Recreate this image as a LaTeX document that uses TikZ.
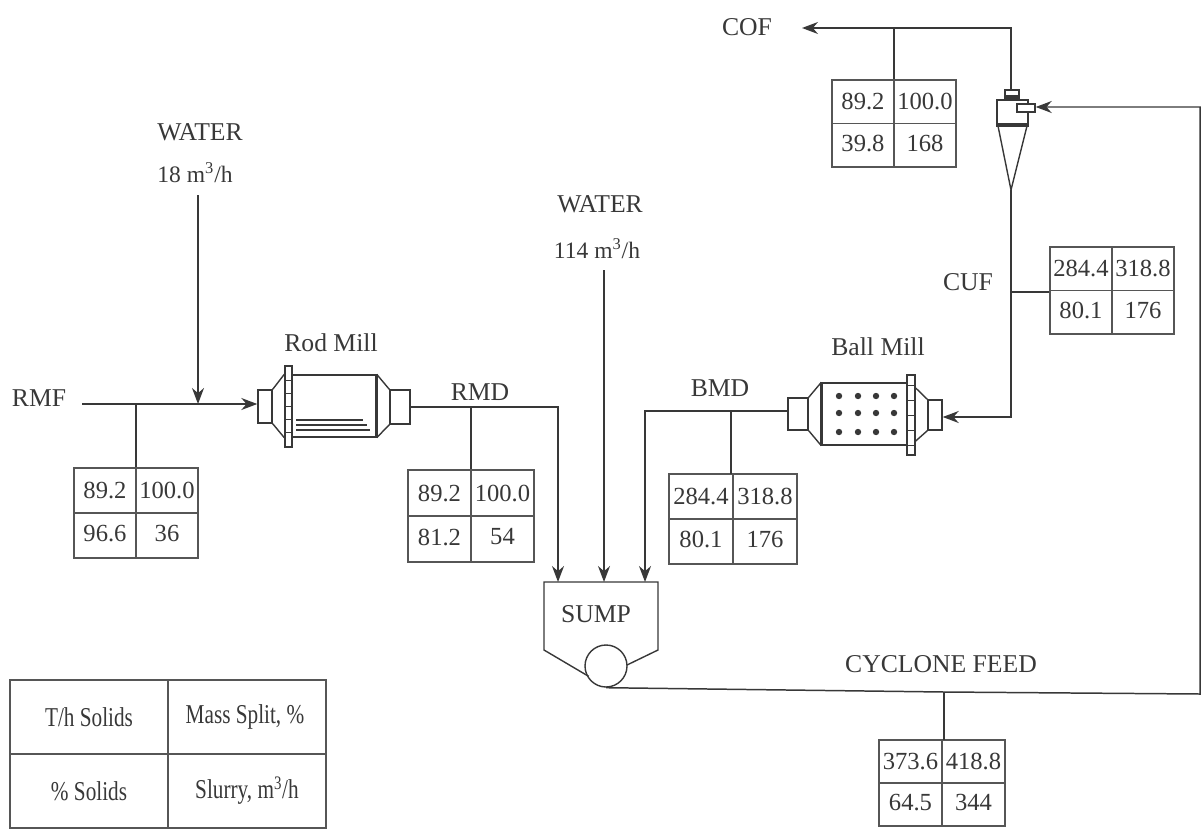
\documentclass[tikz,border=0pt]{standalone}
\usepackage{fontspec}
\setmainfont{Liberation Serif}
\usetikzlibrary{arrows.meta}
\def\px{0.02cm}
\definecolor{ink}{gray}{0.22}
\tikzset{
    stream/.style={draw=ink, line width=0.85pt},
    flow/.style={stream, -{Stealth[length=3.2mm,width=2.4mm]}},
    label/.style={text=ink, inner sep=0pt, font=\fontsize{14.6}{16}\selectfont},
    ratelabel/.style={text=ink, inner sep=0pt, font=\fontsize{13.4}{15}\selectfont},
    cell/.style={text=ink, inner sep=0pt, font=\fontsize{14}{15}\selectfont},
    legendtext/.style={text=ink, inner sep=0pt, font=\fontsize{15.5}{17}\selectfont, xscale=0.78, transform shape},
    grid/.style={draw=ink!85, line width=0.8pt},
    millbox/.style={draw=ink, line width=0.8pt, inner sep=0pt, minimum width=#1*\px},
    frame/.style={draw=ink, line width=0.8pt, inner sep=0pt}
}
% name, centre, half width, half height, four values
\newcommand{\streamtable}[8]{
    \node[grid, inner sep=0pt, minimum width=2*#3*\px, minimum height=2*#4*\px] (#1) at (#2) {};
    \draw[grid] (#1.north) -- (#1.south);
    \draw[grid] (#1.west) -- (#1.east);
    \node[cell] (#1a) at ([shift={(-#3/2,-#4/2)}]#1) {#5};
    \node[cell] (#1b) at ([shift={(#3/2,-#4/2)}]#1) {#6};
    \node[cell] (#1c) at ([shift={(-#3/2,#4/2-2)}]#1) {#7};
    \node[cell] (#1d) at ([shift={(#3/2,#4/2-2)}]#1) {#8};
}
\begin{document}
\begin{tikzpicture}[x=0.02cm, y=-0.02cm]
    \useasboundingbox (0,0) rectangle (1202,828);

    % Labels:
    \node[label] (water1) at (200,132) {WATER};
    \node[ratelabel] (rate1) at (195,173) {18 m\textsuperscript{3}/h};
    \node[label] (water2) at (600,204) {WATER};
    \node[ratelabel] (rate2) at (597,249) {114 m\textsuperscript{3}/h};
    \node[label] (rodlabel) at (331,343) {Rod Mill};
    \node[label] (balllabel) at (878,347) {Ball Mill};
    \node[label] (rmf) at (39,398) {RMF};
    \node[label] (rmd) at (480,392) {RMD};
    \node[label] (bmd) at (720,388) {BMD};
    \node[label] (cuf) at (968,282) {CUF};
    \node[label] (cof) at (747,27) {COF};
    \node[label] (feedlabel) at (941,664) {CYCLONE FEED};

    % Tables:
    \streamtable{tabrmf}{136,513}{62}{45}{89.2}{100.0}{96.6}{36}
    \streamtable{tabrmd}{471,516}{63}{46}{89.2}{100.0}{81.2}{54}
    \streamtable{tabbmd}{733,519}{64}{45}{284.4}{318.8}{80.1}{176}
    \streamtable{tabcof}{894,123.5}{62}{43.5}{89.2}{100.0}{39.8}{168}
    \streamtable{tabcuf}{1112,290.5}{62}{43.5}{284.4}{318.8}{80.1}{176}
    \streamtable{tabfeed}{942,783}{63}{43}{373.6}{418.8}{64.5}{344}

    % Legend:
    \node[grid, inner sep=0pt, minimum width=316*\px, minimum height=148*\px] (legend) at (168,754) {};
    \draw[grid] (legend.north) -- (legend.south);
    \draw[grid] (legend.west) -- (legend.east);
    \node[legendtext] (legenda) at (89,717) {T/h Solids};
    \node[legendtext] (legendb) at (245,717) {Mass Split, \%};
    \node[legendtext] (legendc) at (89,791) {\% Solids};
    \node[legendtext] (legendd) at (247,791) {Slurry, m\textsuperscript{3}/h};

    % Rod mill:
    \node[millbox=14, minimum height=33*\px] (rodin) at (265,406.5) {};
    \node[frame, fill=white, minimum width=7*\px, minimum height=81*\px] (rodflange) at (288.5,406.5) {};
    \node[frame, minimum width=84*\px, minimum height=62*\px] (rodbody) at (334,406) {};
    \node[millbox=20, minimum height=34*\px] (rodout) at (400,407) {};
    \draw[frame] (rodin.north east) -- (rodflange.west |- rodbody.north);
    \draw[frame] (rodin.south east) -- (rodflange.west |- rodbody.south);
    \draw[frame] (rodbody.north east) -- (rodout.north west);
    \draw[frame] (rodbody.south east) -- (rodout.south west);
    \draw[ink, line width=1.2pt] (rodbody.north east) -- (rodbody.south east);
    \foreach \yy in {380,393,406,419,432}
        \draw[ink] (285,\yy) -- (292,\yy);
    \draw[ink, line width=0.6pt] (296,420) -- (363,420);
    \draw[ink, line width=0.9pt] (296,425) -- (367,425);
    \draw[ink, line width=0.9pt] (296,430) -- (370,430);

    % Ball mill:
    \node[millbox=20, minimum height=32*\px] (ballout) at (798,414) {};
    \node[frame, minimum width=85*\px, minimum height=62*\px] (ballbody) at (864.5,414) {};
    \node[frame, fill=white, minimum width=8*\px, minimum height=80*\px] (ballflange) at (911,415) {};
    \node[millbox=14, minimum height=30*\px] (ballin) at (935,415) {};
    \draw[frame] (ballout.north east) -- (ballbody.north west);
    \draw[frame] (ballout.south east) -- (ballbody.south west);
    \draw[frame] (ballflange.east |- 0,388) -- (ballin.north west);
    \draw[frame] (ballflange.east |- 0,441) -- (ballin.south west);
    \draw[ink, line width=1.2pt] (ballbody.north west) -- (ballbody.south west);
    \foreach \yy in {385,400,415,430,445}
        \draw[ink] (907,\yy) -- (915,\yy);
    \foreach \xx in {839,858,876,894}
        \foreach \yy in {396,413,432}
            \fill[ink] (\xx,\yy) circle (3.2);

    % Cyclone:
    \node[frame, minimum width=31*\px, minimum height=24*\px] (cycbody) at (1012.5,112) {};
    \node[frame, minimum width=14*\px, minimum height=10*\px] (cyctop) at (1012,95) {};
    \fill[ink] (1005,95) rectangle (1019,100);
    \node[frame, fill=white, minimum width=18*\px, minimum height=8*\px] (cycin) at (1026,108) {};
    \draw[ink, line width=1.8pt] (996,125) -- (1029,125);
    \coordinate (cycapex) at (1011,190);
    \draw[frame] (998,126) -- (cycapex) -- (1027,126);

    % Sump:
    \node[draw=ink, line width=0.8pt, circle, inner sep=0pt, minimum size=42*\px] (pump) at (606,666) {};
    \coordinate (sumpnw) at (544,582);
    \coordinate (sumpne) at (658,582);
    \draw[frame] (pump.south west) ++(-2,-5) -- (544,650) -- (sumpnw) -- (sumpne) -- (658,650) -- (627,665);
    \node[label] (sump) at (596,614) {SUMP};

    % Streams:
    \coordinate (rmfstart) at (82,404);
    \coordinate (waterjoin) at (198,404);
    \coordinate (rmfjoin) at (136,404);
    \draw[flow] (rmfstart) -- (rodin.west |- rmfstart);
    \draw[stream] (rmfjoin) -- (tabrmf.north);
    \draw[flow] (198,195) -- (waterjoin);

    \coordinate (rmdcorner) at (558,407);
    \coordinate (sumprmd) at (558,582);
    \draw[flow] (rodout.east) -- (rmdcorner) -- (sumprmd);
    \draw[stream] (tabrmd.north |- rmdcorner) -- (tabrmd.north);

    \draw[flow] (604,270) -- (604,582);

    \coordinate (bmdcorner) at (645,411);
    \coordinate (sumpbmd) at (645,582);
    \draw[flow] (ballout.west |- bmdcorner) -- (bmdcorner) -- (sumpbmd);
    \draw[stream] (731,411) -- (731,474);

    \coordinate (cufcorner) at (1011,417);
    \draw[flow] (cycapex) -- (cufcorner) -- (ballin.east |- cufcorner);
    \draw[stream] (1011,292) -- (tabcuf.west |- 0,292);

    \coordinate (cofcorner) at (1011,28);
    \coordinate (cofend) at (802,28);
    \draw[flow] (cyctop.north -| cofcorner) -- (cofcorner) -- (cofend);
    \draw[stream] (tabcof.north |- cofcorner) -- (tabcof.north);

    \coordinate (feedjoin) at (944,692);
    \coordinate (feedright) at (1200,694);
    \coordinate (feedtop) at (1200,107);
    \draw[flow] (pump.south) -- (feedjoin) -- (feedright) -- (feedtop) -- (cycin.east |- feedtop);
    \draw[stream] (feedjoin) -- (944,740);
\end{tikzpicture}
\end{document}
